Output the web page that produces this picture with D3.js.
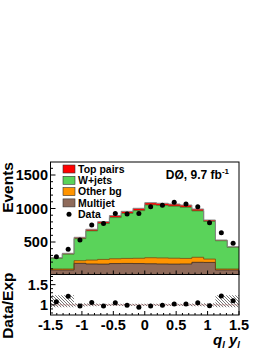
<!DOCTYPE html>
<html>
<head>
<meta charset="utf-8">
<script src="https://cdn.jsdelivr.net/npm/d3@7"></script>
<style>
body { margin: 0; background: white; }
svg text { font-family: "Liberation Sans", Arial, sans-serif; font-weight: bold; }
</style>
</head>
<body>
<div class="display"></div>
<script>
// bin edges in q_l * y_l
const binEdges = [-1.5, -1.3125, -1.125, -0.9375, -0.75, -0.5625, -0.375, -0.1875, 0,
    0.1875, 0.375, 0.5625, 0.75, 0.9375, 1.125, 1.3125, 1.5];

// stacked backgrounds (events per bin)
const multijet = [82, 82, 182, 172, 170, 178, 180, 178, 175, 172, 170, 172, 197, 195, 82, 82];
const otherBg  = [15, 15, 39, 58, 70, 72, 75, 79, 90, 90, 88, 83, 75, 50, 15, 15];
const wjets    = [159, 222, 329, 435, 535, 614, 671, 711, 787, 781, 776, 762, 691, 561, 421, 323];
const topPairs = [10, 12, 20, 25, 28, 30, 32, 35, 35, 35, 33, 35, 30, 22, 12, 10];
const dataVals = [280, 391, 530, 752, 776, 925, 918, 925, 1027, 1048, 1093, 1067, 1027, 788, 639, 480];

// ratio panel
const ratioVals = [1.08, 1.21, 0.97, 1.06, 0.97, 1.05, 0.99, 0.94, 0.97, 0.99, 1.02, 1.02, 1.05, 0.98, 1.22, 1.10];
const bandLo = [0.94, 0.94, 0.96, 0.965, 0.97, 0.97, 0.97, 0.97, 0.97, 0.97, 0.97, 0.97, 0.965, 0.96, 0.94, 0.94];
const bandHi = [1.24, 1.24, 1.04, 1.035, 1.03, 1.03, 1.03, 1.03, 1.03, 1.03, 1.03, 1.03, 1.035, 1.04, 1.24, 1.24];

const xTicks = [-1.5, -1, -0.5, 0, 0.5, 1, 1.5];
const yTicksTop = [500, 1000, 1500];
const yTicksRatio = [1, 1.5];

const legendItems = [
    { name: 'Top pairs', color: '#ff0000' },
    { name: 'W+jets', color: '#5ad35a' },
    { name: 'Other bg', color: '#ff9400' },
    { name: 'Multijet', color: '#8f6b5b' }
];

const width = 272;
const height = 352;
const left = 50.5, right = 239;
const topY = 162, midY = 274.5, botY = 315;

const svg = d3.select('.display')
    .append('svg')
    .attr('width', width)
    .attr('height', height)
    .style('background-color', 'white');

const defs = svg.append('defs');
defs.append('clipPath').attr('id', 'clipTop')
    .append('rect').attr('x', left).attr('y', topY).attr('width', right - left).attr('height', midY - topY);
defs.append('clipPath').attr('id', 'clipBot')
    .append('rect').attr('x', left).attr('y', midY).attr('width', right - left).attr('height', botY - midY);
const pat = defs.append('pattern').attr('id', 'hatch')
    .attr('patternUnits', 'userSpaceOnUse').attr('width', 3).attr('height', 3);
pat.append('path').attr('d', 'M-1,-1 L4,4 M-1,2 L1,4 M2,-1 L4,1')
    .attr('stroke', '#555').attr('stroke-width', 0.8);

const xScale = d3.scaleLinear().domain([-1.5, 1.5]).range([left, right]);
const yScale = d3.scaleLinear().domain([0, 1500]).range([275.5, 175]);
const rScale = d3.scaleLinear().domain([0.75, 1.75]).range([botY, midY]);

// cumulative stack levels
const nBins = dataVals.length;
const levels = [multijet, otherBg, wjets, topPairs];
const cum = [];
let run = new Array(nBins).fill(0);
levels.forEach(arr => {
    run = run.map((v, i) => v + arr[i]);
    cum.push(run.slice());
});

function stepPath(vals, ys) {
    let d = '';
    vals.forEach((v, i) => {
        const x0 = xScale(binEdges[i]), x1 = xScale(binEdges[i + 1]);
        d += (i === 0 ? 'M' : 'L') + x0 + ',' + ys(v) + 'L' + x1 + ',' + ys(v);
    });
    return d;
}
function areaPath(vals, ys, base) {
    const x0 = xScale(binEdges[0]), xn = xScale(binEdges[nBins]);
    return stepPath(vals, ys) + 'L' + xn + ',' + base + 'L' + x0 + ',' + base + 'Z';
}

const upper = svg.append('g').attr('clip-path', 'url(#clipTop)');
const fillOrder = [3, 2, 1, 0];
const colors = ['#8f6b5b', '#ff9400', '#5ad35a', '#ff0000'];
const strokes = ['#3a2a22', '#7a4a10', '#3a8a3a', '#888888'];
fillOrder.forEach(k => {
    upper.append('path')
        .attr('d', areaPath(cum[k], yScale, 280))
        .attr('fill', colors[k]);
});
[0, 1, 2, 3].forEach(k => {
    upper.append('path')
        .attr('d', stepPath(cum[k], yScale))
        .attr('fill', 'none')
        .attr('stroke', strokes[k])
        .attr('stroke-width', k === 3 ? 1 : 0.8);
});

upper.selectAll('circle.data')
    .data(dataVals)
    .enter()
    .append('circle')
    .attr('class', 'data')
    .attr('cx', (d, i) => xScale((binEdges[i] + binEdges[i + 1]) / 2))
    .attr('cy', d => yScale(d))
    .attr('r', 2.5)
    .attr('fill', 'black');

// ratio panel
const lower = svg.append('g').attr('clip-path', 'url(#clipBot)');
let band = '';
bandHi.forEach((v, i) => {
    const x0 = xScale(binEdges[i]), x1 = xScale(binEdges[i + 1]);
    band += (i === 0 ? 'M' : 'L') + x0 + ',' + rScale(v) + 'L' + x1 + ',' + rScale(v);
});
for (let i = nBins - 1; i >= 0; i--) {
    const x0 = xScale(binEdges[i]), x1 = xScale(binEdges[i + 1]);
    band += 'L' + x1 + ',' + rScale(bandLo[i]) + 'L' + x0 + ',' + rScale(bandLo[i]);
}
lower.append('path').attr('d', band + 'Z').attr('fill', 'url(#hatch)');
lower.append('line')
    .attr('x1', left).attr('x2', right)
    .attr('y1', rScale(1)).attr('y2', rScale(1))
    .attr('stroke', '#b07070').attr('stroke-width', 0.8).attr('stroke-dasharray', '2,1');
lower.selectAll('circle')
    .data(ratioVals)
    .enter()
    .append('circle')
    .attr('cx', (d, i) => xScale((binEdges[i] + binEdges[i + 1]) / 2))
    .attr('cy', d => rScale(d))
    .attr('r', 2.5)
    .attr('fill', 'black');

// frames
svg.append('rect').attr('x', left).attr('y', topY).attr('width', right - left).attr('height', midY - topY)
    .attr('fill', 'none').attr('stroke', 'black').attr('stroke-width', 1);
svg.append('rect').attr('x', left).attr('y', midY).attr('width', right - left).attr('height', botY - midY)
    .attr('fill', 'none').attr('stroke', 'black').attr('stroke-width', 1);

// ticks (inside frame)
const tickG = svg.append('g').attr('stroke', 'black').attr('stroke-width', 1);
d3.range(100, 1700, 100).forEach(v => {
    const major = v % 500 === 0;
    tickG.append('line').attr('x1', left).attr('x2', left + (major ? 5 : 2.5))
        .attr('y1', yScale(v)).attr('y2', yScale(v));
});
d3.range(0.8, 1.75, 0.1).forEach(v => {
    const major = Math.abs(v - 1) < 1e-6 || Math.abs(v - 1.5) < 1e-6;
    tickG.append('line').attr('x1', left).attr('x2', left + (major ? 5 : 2.5))
        .attr('y1', rScale(v)).attr('y2', rScale(v));
});
d3.range(-15, 16).forEach(k => {
    const v = k / 10;
    const major = k % 5 === 0;
    [midY, botY].forEach(yb => {
        tickG.append('line').attr('x1', xScale(v)).attr('x2', xScale(v))
            .attr('y1', yb).attr('y2', yb - (major ? 4 : 2));
    });
});

// tick labels
svg.selectAll('text.yt')
    .data(yTicksTop)
    .enter()
    .append('text')
    .attr('class', 'yt')
    .attr('x', 48)
    .attr('y', d => yScale(d))
    .attr('dy', '0.36em')
    .attr('text-anchor', 'end')
    .attr('font-size', 14.5)
    .text(d => d);

svg.selectAll('text.rt')
    .data(yTicksRatio)
    .enter()
    .append('text')
    .attr('class', 'rt')
    .attr('x', 48)
    .attr('y', d => rScale(d))
    .attr('dy', '0.36em')
    .attr('text-anchor', 'end')
    .attr('font-size', 14.5)
    .text(d => d);

svg.selectAll('text.xt')
    .data(xTicks)
    .enter()
    .append('text')
    .attr('class', 'xt')
    .attr('x', d => xScale(d))
    .attr('y', 330)
    .attr('text-anchor', 'middle')
    .attr('font-size', 14.5)
    .text(d => d);

// axis titles
svg.append('text')
    .attr('transform', `translate(13, ${topY}) rotate(-90)`)
    .attr('text-anchor', 'end')
    .attr('font-size', 15.5)
    .text('Events');
svg.append('text')
    .attr('transform', `translate(13, ${midY - 2}) rotate(-90)`)
    .attr('text-anchor', 'end')
    .attr('font-size', 15.5)
    .text('Data/Exp');

const xTitle = svg.append('text')
    .attr('x', 240)
    .attr('y', 345)
    .attr('text-anchor', 'end')
    .attr('font-size', 15)
    .attr('font-style', 'italic');
xTitle.append('tspan').text('q');
xTitle.append('tspan').attr('font-size', 9.5).attr('dy', 3).text('l');
xTitle.append('tspan').attr('dy', -3).text(' y');
xTitle.append('tspan').attr('font-size', 9.5).attr('dy', 3).text('l');

// legend
const legend = svg.append('g').attr('id', 'legend');
legendItems.forEach((it, i) => {
    const cy = 169 + i * 11.3;
    legend.append('rect')
        .attr('x', 63).attr('y', cy - 4).attr('width', 12).attr('height', 8)
        .attr('fill', it.color).attr('stroke', '#333').attr('stroke-width', 0.6);
    legend.append('text')
        .attr('x', 78).attr('y', cy).attr('dy', '0.36em')
        .attr('font-size', 10.5)
        .text(it.name);
});
legend.append('circle').attr('cx', 69).attr('cy', 169 + 4 * 11.3).attr('r', 2.5).attr('fill', 'black');
legend.append('text')
    .attr('x', 78).attr('y', 169 + 4 * 11.3).attr('dy', '0.36em')
    .attr('font-size', 10.5)
    .text('Data');

// experiment label
const lab = svg.append('text')
    .attr('x', 229)
    .attr('y', 179)
    .attr('text-anchor', 'end')
    .attr('font-size', 12);
lab.append('tspan').text('DØ, 9.7 fb');
lab.append('tspan').attr('font-size', 8).attr('dy', -5).text('-1');
</script>
</body>
</html>
